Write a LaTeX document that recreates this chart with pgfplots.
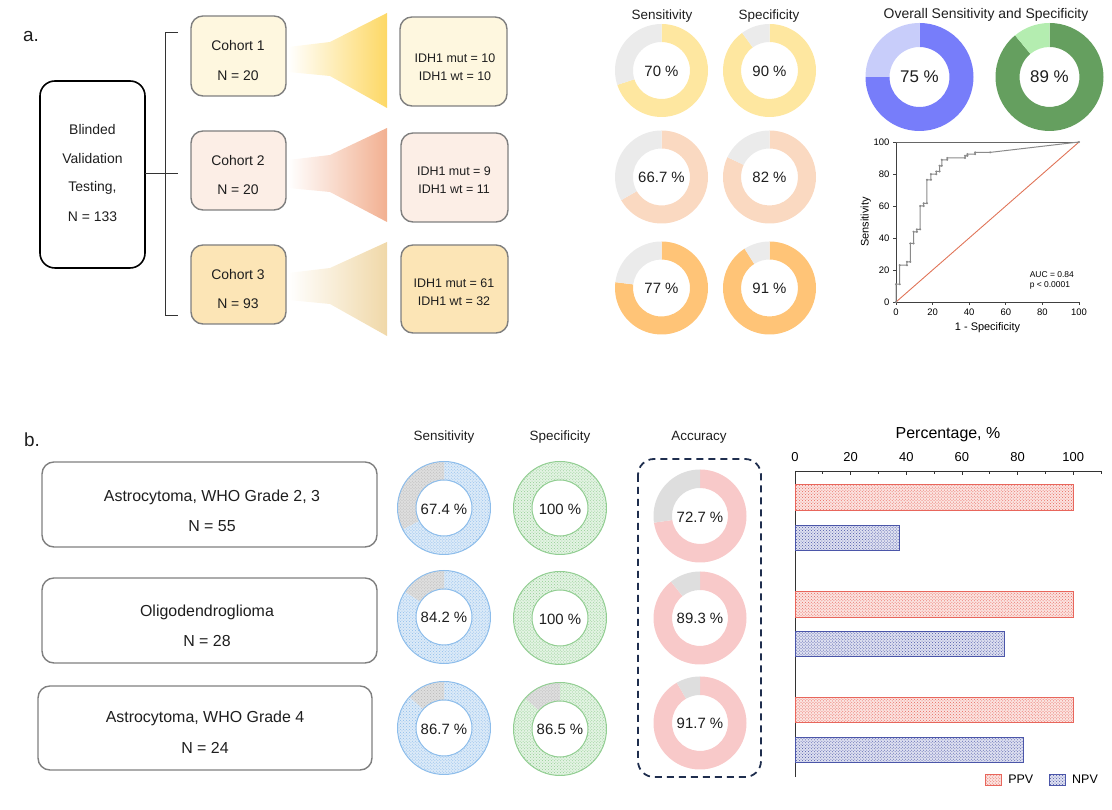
\documentclass[border=0pt]{standalone}
\usepackage{pgfplots}
\pgfplotsset{compat=1.18}
\usepackage{fontspec}
\setmainfont{Liberation Sans}
\usetikzlibrary{calc,patterns}

\definecolor{txt}{HTML}{1E1E1E}
\definecolor{bordergray}{HTML}{7F7F7F}
\definecolor{c1fill}{HTML}{FEF7DF}
\definecolor{c2fill}{HTML}{FCEEE6}
\definecolor{c3fill}{HTML}{FCE5B6}
\definecolor{f1}{HTML}{FDD865}
\definecolor{f2}{HTML}{F2B091}
\definecolor{f3}{HTML}{F0D8A8}
\definecolor{d1}{HTML}{FEE7A0}
\definecolor{d2}{HTML}{FAD9C1}
\definecolor{d3}{HTML}{FFC477}
\definecolor{dgray}{HTML}{EBEBEB}
\definecolor{ovblue}{HTML}{777DFA}
\definecolor{ovbluel}{HTML}{C8CDFA}
\definecolor{ovgreen}{HTML}{659F5F}
\definecolor{ovgreenl}{HTML}{B4EDB0}
\definecolor{sensline}{HTML}{8DBDEB}
\definecolor{sensfill}{HTML}{DCEAF8}
\definecolor{specline}{HTML}{92CE92}
\definecolor{specfill}{HTML}{E3F3E3}
\definecolor{accfill}{HTML}{F8C9C9}
\definecolor{bgray}{HTML}{DEDEDE}
\definecolor{bgrayd}{HTML}{B8B8B8}
\definecolor{navy}{HTML}{1F2E4E}
\definecolor{ppvline}{HTML}{E8665C}
\definecolor{ppvfill}{HTML}{FBE3E0}
\definecolor{npvline}{HTML}{4B56A9}
\definecolor{npvfill}{HTML}{DEE0F0}
\definecolor{roccurve}{HTML}{8A8A8A}
\definecolor{rocref}{HTML}{E07458}

\newcommand{\fsz}[1]{\fontsize{#1}{#1}\selectfont}

% donut segment: cx cy rout rin startpct endpct style
\newcommand{\seg}[7]{%
  \path[#7] ($(#1,#2)+({-90+3.6*(#5)}:#3)$)
    arc[start angle={-90+3.6*(#5)}, end angle={-90+3.6*(#6)}, radius=#3]
    -- ($(#1,#2)+({-90+3.6*(#6)}:#4)$)
    arc[start angle={-90+3.6*(#6)}, end angle={-90+3.6*(#5)}, radius=#4] -- cycle;}
\newcommand{\donut}[7]{%
  \seg{#1}{#2}{#3}{#4}{0}{#5}{fill=#6}%
  \seg{#1}{#2}{#3}{#4}{#5}{100}{fill=#7}}
\newcommand{\pdonut}[8]{% cx cy rout rin value fill pattern line
  \seg{#1}{#2}{#3}{#4}{0}{#5}{fill=#6, postaction={pattern=crosshatch dots, pattern color=#7}}%
  \seg{#1}{#2}{#3}{#4}{#5}{100}{fill=bgray, postaction={pattern=crosshatch dots, pattern color=bgrayd}}%
  \draw[#8, line width=1] (#1,#2) circle[radius=#3];
  \draw[#8, line width=1] (#1,#2) circle[radius=#4];}

\begin{document}
\begin{tikzpicture}
\path[use as bounding box] (0bp,0bp) rectangle (1112bp,810bp);

\begin{scope}[x=1bp, y=1bp, shift={(0bp,810bp)}, yscale=-1, text=txt]
% ---------------- panel a ----------------
\node[font=\fsz{19}] at (31,37) {a.};
\draw[black, line width=1.6, rounded corners=15] (40,81) rectangle (145,268);
\node[font=\fsz{14}] at (92.5,130) {Blinded};
\node[font=\fsz{14}] at (92.5,159) {Validation};
\node[font=\fsz{14}] at (92.5,188) {Testing,};
\node[font=\fsz{14}] at (92.5,217) {N = 133};
\draw[black!80, line width=1] (178,33) -- (165,33) -- (165,316) -- (178,316);
\draw[black!80, line width=1] (145,174) -- (178,174);

% cohort boxes
\draw[bordergray, line width=1.4, fill=c1fill, rounded corners=12] (191,16) rectangle (286,96);
\draw[bordergray, line width=1.4, fill=c2fill, rounded corners=12] (191,131) rectangle (286,210);
\draw[bordergray, line width=1.4, fill=c3fill, rounded corners=12] (191,245) rectangle (286,324);
\node[font=\fsz{14}] at (238,46) {Cohort 1};
\node[font=\fsz{14}] at (238,76) {N = 20};
\node[font=\fsz{14}] at (238,161) {Cohort 2};
\node[font=\fsz{14}] at (238,190) {N = 20};
\node[font=\fsz{14}] at (238,275) {Cohort 3};
\node[font=\fsz{14}] at (238,304) {N = 93};

% funnels
\shade[left color=white, right color=f1] (288,47) -- (330,42) -- (387,13) -- (387,108) -- (330,76) -- (288,72) -- cycle;
\shade[left color=white, right color=f2] (288,160) -- (330,155) -- (387,128) -- (387,222) -- (330,192) -- (288,188) -- cycle;
\shade[left color=white, right color=f3] (288,273) -- (330,268) -- (387,242) -- (387,336) -- (330,304) -- (288,300) -- cycle;

% IDH boxes
\draw[bordergray, line width=1.4, fill=c1fill, rounded corners=12] (400,17) rectangle (507,106);
\draw[bordergray, line width=1.4, fill=c2fill, rounded corners=12] (401,133) rectangle (508,222);
\draw[bordergray, line width=1.4, fill=c3fill, rounded corners=12] (401,245) rectangle (508,333);
\node[font=\fsz{12.5}] at (455,58) {IDH1 mut = 10};
\node[font=\fsz{12.5}] at (455,76) {IDH1 wt = 10};
\node[font=\fsz{12.5}] at (454,171) {IDH1 mut = 9};
\node[font=\fsz{12.5}] at (454,189) {IDH1 wt = 11};
\node[font=\fsz{12.5}] at (454,283) {IDH1 mut = 61};
\node[font=\fsz{12.5}] at (454,301) {IDH1 wt = 32};

% donuts panel a
\node[font=\fsz{13.5}] at (662,16) {Sensitivity};
\node[font=\fsz{13.5}] at (769,16) {Specificity};
\donut{661.5}{70.5}{46.5}{28.5}{70}{d1}{dgray}
\donut{769.5}{70.5}{46.5}{28.5}{90}{d1}{dgray}
\donut{661.5}{177}{46.5}{28.5}{66.7}{d2}{dgray}
\donut{769.5}{177}{46.5}{28.5}{82}{d2}{dgray}
\donut{661.5}{288}{46.5}{28.5}{77}{d3}{dgray}
\donut{769.5}{288}{46.5}{28.5}{91}{d3}{dgray}
\node[font=\fsz{15}] at (661.5,71) {70 \%};
\node[font=\fsz{15}] at (769.5,71) {90 \%};
\node[font=\fsz{15}] at (661.5,177) {66.7 \%};
\node[font=\fsz{15}] at (769.5,177) {82 \%};
\node[font=\fsz{15}] at (661.5,288) {77 \%};
\node[font=\fsz{15}] at (769.5,288) {91 \%};

% overall donuts
\node[font=\fsz{14}] at (986,15) {Overall Sensitivity and Specificity};
\donut{919.5}{77}{54}{30}{75}{ovblue}{ovbluel}
\donut{1049.5}{77}{54}{30}{89}{ovgreen}{ovgreenl}
\node[font=\fsz{17}] at (919.5,77) {75 \%};
\node[font=\fsz{17}] at (1049.5,77) {89 \%};

% ---------------- panel b ----------------
\node[font=\fsz{19}] at (32,440) {b.};
\draw[bordergray, line width=1.4, rounded corners=12] (42,462) rectangle (377,547);
\draw[bordergray, line width=1.4, rounded corners=12] (42,578) rectangle (377,663);
\draw[bordergray, line width=1.4, rounded corners=12] (38,686) rectangle (372,770);
\node[font=\fsz{16}] at (212,497) {Astrocytoma, WHO Grade 2, 3};
\node[font=\fsz{16}] at (212,526) {N = 55};
\node[font=\fsz{16}] at (207,612) {Oligodendroglioma};
\node[font=\fsz{16}] at (207,641) {N = 28};
\node[font=\fsz{16}] at (205,718) {Astrocytoma, WHO Grade 4};
\node[font=\fsz{16}] at (205,748) {N = 24};

\node[font=\fsz{13.5}] at (444,437) {Sensitivity};
\node[font=\fsz{13.5}] at (560,437) {Specificity};
\node[font=\fsz{13.5}] at (699,437) {Accuracy};

\pdonut{444}{508}{46.5}{28}{67.4}{sensfill}{sensline}{sensline}
\pdonut{444}{617}{46.5}{28}{84.2}{sensfill}{sensline}{sensline}
\pdonut{444}{728}{46.5}{28}{86.7}{sensfill}{sensline}{sensline}
\pdonut{560}{508}{46.5}{28}{100}{specfill}{specline}{specline}
\pdonut{560}{618}{46.5}{28}{100}{specfill}{specline}{specline}
\pdonut{560}{729}{46.5}{28}{86.5}{specfill}{specline}{specline}
\donut{700}{516}{46.5}{28}{72.7}{accfill}{bgray}
\donut{700}{618}{46.5}{28}{89.3}{accfill}{bgray}
\donut{700}{723}{46.5}{28}{91.7}{accfill}{bgray}

\node[font=\fsz{15}] at (444,509) {67.4 \%};
\node[font=\fsz{15}] at (444,617) {84.2 \%};
\node[font=\fsz{15}] at (444,729) {86.7 \%};
\node[font=\fsz{15}] at (560,509) {100 \%};
\node[font=\fsz{15}] at (560,619) {100 \%};
\node[font=\fsz{15}] at (560,729) {86.5 \%};
\node[font=\fsz{15}] at (700,517) {72.7 \%};
\node[font=\fsz{15}] at (700,618) {89.3 \%};
\node[font=\fsz{15}] at (700,723) {91.7 \%};

\draw[navy, line width=1.8, dash pattern=on 7bp off 5bp, rounded corners=16] (638,459) rectangle (761,777);
\end{scope}

% ---------------- ROC axis ----------------
\begin{axis}[
  at={(896bp,508bp)}, anchor=south west,
  width=183bp, height=160bp, scale only axis,
  xmin=0, xmax=100, ymin=0, ymax=100,
  axis x line=bottom, axis y line=left,
  axis line style={-, black!75, line width=0.8},
  xtick={0,20,...,100}, ytick={0,20,...,100},
  tick align=outside, major tick length=3bp,
  tick style={black!75, line width=0.8},
  /pgf/number format/assume math mode=true,
  ticklabel style={font=\fsz{9.5}},
  xlabel={1 - Specificity}, ylabel={Sensitivity},
  label style={font=\fsz{11}},
  xlabel style={yshift=-1bp}, ylabel style={yshift=-4bp},
  clip=false,
]
\addplot[black!60, line width=0.8] coordinates {(0,100) (100,100)};
\addplot[rocref, line width=0.9] coordinates {(0,0) (100,100)};
\addplot[roccurve, line width=1, mark=*, mark size=0.45] coordinates {
 (0,0) (0,11.1) (2,11.1) (2,23) (6,23) (6,25.1) (7.8,25.1) (7.8,36.6) (9.6,36.6)
 (9.6,43.9) (11.4,43.9) (11.4,45.4) (13.2,45.4) (13.2,60) (15.1,60) (15.1,61.7)
 (16.9,61.7) (16.9,76.4) (19.1,76.4) (19.1,79.9) (22,79.9) (22,81.6) (23.8,81.6)
 (23.8,85.1) (25,85.1) (25,88.9) (28,88.9) (28,90) (37.7,90) (37.7,91.4) (39,91.4)
 (39,92.4) (43.2,92.4) (43.2,93.5) (51.4,93.5) (100,100)};
\node[anchor=west, font=\fsz{8.5}, inner sep=0] at (axis cs:73,17) {AUC = 0.84};
\node[anchor=west, font=\fsz{8.5}, inner sep=0] at (axis cs:73,10.5) {p < 0.0001};
\end{axis}

% ---------------- bar chart ----------------
\begin{axis}[
  at={(795bp,33bp)}, anchor=south west,
  width=306bp, height=306bp, scale only axis,
  xmin=0, xmax=110, ymin=33, ymax=339,
  axis x line=top, axis y line=left,
  axis line style={-, black!80, line width=0.8},
  xtick={0,20,...,100}, minor xtick={10,30,...,110}, ytick=\empty,
  tick align=inside, major tick length=4bp, minor tick length=3bp,
  tick style={black!80, line width=0.8},
  /pgf/number format/assume math mode=true,
  ticklabel style={font=\fsz{13}}, xticklabel style={yshift=6bp},
  xlabel={Percentage, \%}, label style={font=\fsz{16}}, xlabel style={yshift=4bp},
  xbar, bar width=25.5, bar shift=0pt,
  legend columns=2,
  legend image code/.code={\draw[#1, line width=1] (0bp,-5bp) rectangle (16bp,6bp);},
  legend style={draw=none, fill=none, at={(1.0,-0.01)}, anchor=east,
    font=\fsz{12.5}, inner sep=1bp,
    /tikz/every odd column/.append style={column sep=4bp},
    /tikz/every even column/.append style={column sep=14bp}},
]
\addplot[draw=ppvline, line width=1, fill=ppvfill, postaction={pattern=crosshatch dots, pattern color=ppvline}]
  coordinates {(100,312.5) (100,205.5) (100,100)};
\addplot[draw=npvline, line width=1, fill=npvfill, postaction={pattern=crosshatch dots, pattern color=npvline}]
  coordinates {(37.4,272) (75.2,166) (82,60)};
\legend{PPV, NPV}
\end{axis}
\end{tikzpicture}
\end{document}
